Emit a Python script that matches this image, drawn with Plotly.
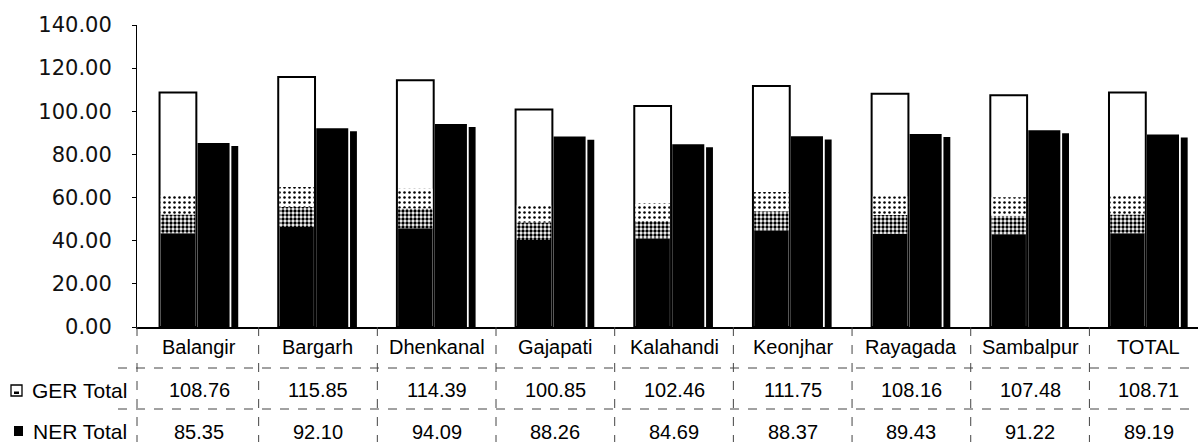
import plotly.graph_objects as go

# Enrolment ratios by district
districts = ["Balangir", "Bargarh", "Dhenkanal", "Gajapati", "Kalahandi",
             "Keonjhar", "Rayagada", "Sambalpur", "TOTAL"]
ger_total = [108.76, 115.85, 114.39, 100.85, 102.46, 111.75, 108.16, 107.48, 108.71]
ner_total = [85.35, 92.10, 94.09, 88.26, 84.69, 88.37, 89.43, 91.22, 89.19]
series_names = ["GER Total", "NER Total"]
y_ticks = [0, 20, 40, 60, 80, 100, 120, 140]

W, H = 1198, 442
L, R, T, B = 137, 0, 25, 115
x_lo, x_hi = -0.525, 8.415
plot_h = H - T - B


def py(pix):
    """pixel row -> paper y"""
    return (H - B - pix) / plot_h


def px(pix):
    """pixel column -> paper x"""
    return (pix - L) / (W - L - R)


x_idx = list(range(len(districts)))

fig = go.Figure()

# GER: white bar with black outline
ger_off, ger_w = -0.335, 0.31
fig.add_trace(go.Bar(
    x=x_idx, y=ger_total, offset=ger_off, width=ger_w,
    marker=dict(color="white", line=dict(color="black", width=2)),
    name=series_names[0], hoverinfo="skip"))

# dark gradient-like fill in the lower part of the GER bars
inner_off, inner_w = ger_off + 0.01, ger_w - 0.02
fig.add_trace(go.Bar(
    x=x_idx, y=[v * 0.40 for v in ger_total], offset=inner_off, width=inner_w,
    marker=dict(color="black", line=dict(width=0)),
    hoverinfo="skip", showlegend=False))
for lo, hi, solid, size in [(0.40, 0.48, 0.55, 4), (0.48, 0.56, 0.2, 5)]:
    fig.add_trace(go.Bar(
        x=x_idx, y=[v * (hi - lo) for v in ger_total],
        base=[v * lo for v in ger_total],
        offset=inner_off, width=inner_w,
        marker=dict(color="black", line=dict(width=0),
                    pattern=dict(shape=".", fgcolor="black", bgcolor="white",
                                 fillmode="replace", size=size, solidity=solid)),
        hoverinfo="skip", showlegend=False))

# NER: black bar with a thin drop shadow beside it
shadow_drop = 1.4
fig.add_trace(go.Bar(
    x=x_idx, y=ner_total, offset=-0.015, width=0.27,
    marker=dict(color="black", line=dict(width=0)),
    name=series_names[1], hoverinfo="skip"))
fig.add_trace(go.Bar(
    x=x_idx, y=[v - shadow_drop for v in ner_total], offset=0.27, width=0.058,
    marker=dict(color="black", line=dict(width=0)),
    hoverinfo="skip", showlegend=False))

shapes = []
annotations = []
table_font = dict(family="Liberation Sans, Arial, sans-serif", size=20, color="black")
label_font = dict(family="Liberation Sans, Arial, sans-serif", size=21, color="black")
line_style = dict(color="#444", width=1, dash="dash")

# table grid: vertical separators between districts
for k in range(len(districts) - 1):
    shapes.append(dict(type="line", xref="x", yref="paper",
                       x0=k + 0.5, x1=k + 0.5, y0=py(327), y1=py(442), line=line_style))
shapes.append(dict(type="line", xref="paper", yref="paper",
                   x0=0, x1=0, y0=py(327), y1=py(442), line=line_style))
# horizontal separators between table rows
for row_y in (368, 409):
    shapes.append(dict(type="line", xref="paper", yref="paper",
                       x0=px(118), x1=1, y0=py(row_y), y1=py(row_y), line=line_style))

# legend keys in the table row headers
shapes.append(dict(type="rect", xref="paper", yref="paper",
                   x0=px(11), x1=px(22), y0=py(396), y1=py(385),
                   fillcolor="white", line=dict(color="black", width=1.3)))
shapes.append(dict(type="rect", xref="paper", yref="paper",
                   x0=px(14), x1=px(19), y0=py(394), y1=py(391.5),
                   fillcolor="black", line=dict(width=0)))
shapes.append(dict(type="rect", xref="paper", yref="paper",
                   x0=px(14), x1=px(23), y0=py(436), y1=py(426),
                   fillcolor="black", line=dict(width=0)))

# table text
for i, name in enumerate(districts):
    annotations.append(dict(x=i, y=py(347), xref="x", yref="paper", text=name,
                            showarrow=False, font=table_font, yanchor="middle"))
    annotations.append(dict(x=i, y=py(390), xref="x", yref="paper", text=f"{ger_total[i]:.2f}",
                            showarrow=False, font=table_font, yanchor="middle"))
    annotations.append(dict(x=i, y=py(432), xref="x", yref="paper", text=f"{ner_total[i]:.2f}",
                            showarrow=False, font=table_font, yanchor="middle"))
for label, row_y in zip(series_names, (390, 432)):
    annotations.append(dict(x=px(129), y=py(row_y), xref="paper", yref="paper", text=label,
                            showarrow=False, font=label_font, xanchor="right", yanchor="middle"))

fig.update_layout(
    width=W, height=H,
    margin=dict(l=L, r=R, t=T, b=B, pad=0),
    paper_bgcolor="white", plot_bgcolor="white",
    barmode="overlay", showlegend=False,
    shapes=shapes, annotations=annotations,
    xaxis=dict(range=[x_lo, x_hi], showticklabels=False, ticks="", showgrid=False,
               zeroline=False, showline=True, linecolor="black", linewidth=1.5),
    yaxis=dict(range=[0, 140], tickvals=y_ticks, tickformat=".2f", showgrid=False,
               zeroline=False, showline=True, linecolor="black", linewidth=1,
               ticks="outside", ticklen=4, tickcolor="black", ticklabelstandoff=16,
               tickfont=dict(family="DejaVu Sans, sans-serif", size=21, color="#111")),
)

fig.write_html("out.html")
